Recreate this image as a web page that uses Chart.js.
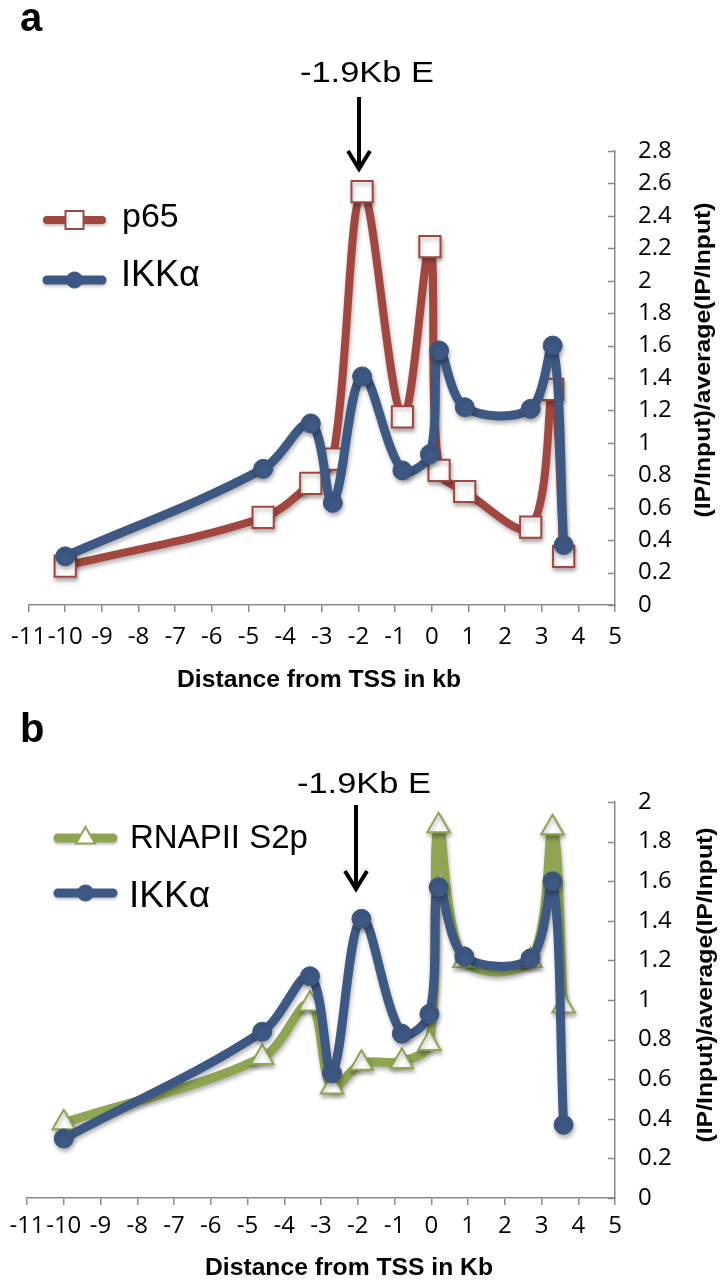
<!DOCTYPE html>
<html>
<head>
<meta charset="utf-8">
<script src="https://cdn.jsdelivr.net/npm/chart.js@4.4.1/dist/chart.umd.min.js"></script>
<style>
	html, body { margin: 0; padding: 0; background: #fff; }
	#wrap { position: relative; width: 726px; height: 1282px; }
	.panel { position: absolute; left: 0; width: 726px; }
	#panelA { top: 0; height: 700px; }
	#panelB { top: 700px; height: 582px; }
</style>
</head>
<body>
<div id="wrap">
	<div class="panel" id="panelA"><canvas id="chartA"></canvas></div>
	<div class="panel" id="panelB"><canvas id="chartB"></canvas></div>
</div>
<script>
// distance from TSS (kb), shared by every series
const distanceKb = [-10, -4.6, -3.3, -2.7, -1.9, -0.8, -0.05, 0.2, 0.9, 2.7, 3.3, 3.6];
const p65Values = [0.24, 0.54, 0.75, 0.9, 2.55, 1.16, 2.21, 0.83, 0.70, 0.48, 1.33, 0.30];
const ikkaValues = [0.30, 0.84, 1.12, 0.63, 1.41, 0.83, 0.93, 1.57, 1.22, 1.21, 1.60, 0.37];
const rnapiiValues = [0.38, 0.71, 0.98, 0.56, 0.68, 0.69, 0.78, 1.88, 1.20, 1.20, 1.87, 0.97];

const xAxisMin = -11;
const xAxisMax = 5;
const yMaxA = 2.8;
const yMaxB = 2;
const yStep = 0.2;

const labelP65 = 'p65';
const labelIkka = 'IKKα';
const labelRnapii = 'RNAPII S2p';
const xTitleA = 'Distance from TSS in kb';
const xTitleB = 'Distance from TSS in Kb';
const yTitle = '(IP/Input)/average(IP/Input)';
const enhancerLabel = '-1.9Kb E';

const RED = '#a2473f';
const BLUE = '#3d5882';
const GREEN = '#8ea552';
const AXIS = '#8a8a8a';
const SANS = '"Liberation Sans", Arial, sans-serif';
const TICK_FONT = '"Open Sans", sans-serif';

const toPoints = (vals) => distanceKb.map((x, i) => ({ x, y: vals[i] }));

const styles = {
	p65: { color: RED, lineWidth: 8, marker: 'rect', size: 15, fill: '#fff', markerBorder: 2 },
	ikka: { color: BLUE, lineWidth: 9, marker: 'circle', size: 9.5, fill: BLUE, markerBorder: 1 },
	rnapii: { color: GREEN, lineWidth: 9, marker: 'triangle', size: 13, fill: '#fff', markerBorder: 2 }
};

function makeDataset(label, vals, st, order) {
	return {
		label,
		data: toPoints(vals),
		borderColor: st.color,
		backgroundColor: st.fill,
		borderWidth: st.lineWidth,
		tension: 0.35,
		pointStyle: st.marker,
		pointRadius: st.size,
		pointBackgroundColor: st.fill,
		pointBorderColor: st.color,
		pointBorderWidth: st.markerBorder,
		order
	};
}

function drawText(ctx, t) {
	ctx.save();
	ctx.font = t.font;
	ctx.fillStyle = t.color || '#000';
	ctx.textBaseline = t.baseline || 'alphabetic';
	ctx.textAlign = t.align || 'left';
	const w = ctx.measureText(t.text).width;
	const sx = t.width ? t.width / w : 1;
	ctx.translate(t.x, t.y);
	if (t.rotate) ctx.rotate(t.rotate);
	ctx.scale(sx, 1);
	ctx.fillText(t.text, 0, 0);
	ctx.restore();
}

function drawMarker(ctx, st, x, y) {
	ctx.save();
	ctx.fillStyle = st.fill;
	ctx.strokeStyle = st.color;
	ctx.lineWidth = st.markerBorder;
	ctx.beginPath();
	const r = st.size;
	if (st.marker === 'circle') {
		ctx.arc(x, y, r, 0, Math.PI * 2);
	} else if (st.marker === 'rect') {
		const h = r * Math.SQRT1_2;
		ctx.rect(x - h, y - h, 2 * h, 2 * h);
	} else {
		ctx.moveTo(x, y - r);
		ctx.lineTo(x + r * Math.sin(Math.PI * 2 / 3), y + r * 0.5);
		ctx.lineTo(x - r * Math.sin(Math.PI * 2 / 3), y + r * 0.5);
		ctx.closePath();
	}
	ctx.fill();
	ctx.stroke();
	ctx.restore();
}

// panel letter, enhancer arrow, legend and axis titles
function decorPlugin(cfg) {
	return {
		id: 'decor',
		afterDraw(chart) {
			const ctx = chart.ctx;
			drawText(ctx, { text: cfg.letter, font: `bold 40px ${SANS}`, x: 20, y: cfg.letterY });

			const a = cfg.arrow;
			drawText(ctx, { text: enhancerLabel, font: `30px ${SANS}`, x: a.textX, y: a.textY, width: a.textW });
			ctx.save();
			ctx.strokeStyle = '#000';
			ctx.lineWidth = 4;
			ctx.lineJoin = 'miter';
			ctx.beginPath();
			ctx.moveTo(a.x, a.top);
			ctx.lineTo(a.x, a.tip - 2);
			ctx.stroke();
			ctx.beginPath();
			ctx.moveTo(a.x - 11, a.tip - 19);
			ctx.lineTo(a.x, a.tip - 1);
			ctx.lineTo(a.x + 11, a.tip - 19);
			ctx.stroke();
			ctx.restore();

			cfg.legend.forEach((e) => {
				ctx.save();
				ctx.shadowColor = 'rgba(0,0,0,0.25)';
				ctx.shadowBlur = 3;
				ctx.shadowOffsetY = 2;
				ctx.strokeStyle = e.st.color;
				ctx.lineWidth = e.st.lineWidth;
				ctx.lineCap = 'round';
				ctx.beginPath();
				ctx.moveTo(e.x1, e.y);
				ctx.lineTo(e.x2, e.y);
				ctx.stroke();
				ctx.restore();
				drawMarker(ctx, Object.assign({}, e.st, { size: e.st.size * 0.85 }), (e.x1 + e.x2) / 2, e.y);
				drawText(ctx, { text: e.text, font: `${e.size}px ${SANS}`, x: e.textX, y: e.base });
			});

			const xt = cfg.xTitle;
			drawText(ctx, { text: xt.text, font: `bold 24px ${SANS}`, x: xt.cx, y: xt.base, align: 'center', width: xt.width });
			const yt = cfg.yTitle;
			drawText(ctx, { text: yTitle, font: `bold 22px ${SANS}`, x: yt.cx, y: yt.cy, align: 'center', baseline: 'middle', rotate: -Math.PI / 2, width: yt.len });

			// Excel-style tick marks pointing into the plot
			const ys = chart.scales.y;
			ctx.save();
			ctx.strokeStyle = AXIS;
			ctx.lineWidth = 1.5;
			ys.ticks.forEach((t) => {
				const py = Math.round(ys.getPixelForValue(t.value)) + 0.5;
				ctx.beginPath();
				ctx.moveTo(ys.left - 7, py);
				ctx.lineTo(ys.left, py);
				ctx.stroke();
			});
			ctx.restore();
		}
	};
}

const shadowPlugin = {
	id: 'shadow',
	beforeDatasetsDraw(chart) {
		const ctx = chart.ctx;
		ctx.save();
		ctx.shadowColor = 'rgba(0,0,0,0.3)';
		ctx.shadowBlur = 4;
		ctx.shadowOffsetX = 1;
		ctx.shadowOffsetY = 3;
	},
	afterDatasetsDraw(chart) {
		chart.ctx.restore();
	}
};

function makeChart(canvas, datasets, yMax, layout, decor) {
	return new Chart(canvas, {
		type: 'line',
		data: { datasets },
		options: {
			responsive: true,
			maintainAspectRatio: false,
			animation: false,
			devicePixelRatio: 1,
			layout: { padding: { left: layout.left, top: layout.top, right: 0, bottom: 0 } },
			plugins: { legend: { display: false }, tooltip: { enabled: false } },
			scales: {
				x: {
					type: 'linear',
					min: xAxisMin,
					max: xAxisMax,
					afterFit: (s) => { s.height = layout.xHeight; },
					ticks: {
						stepSize: 1,
						color: '#000',
						padding: layout.xPad,
						maxRotation: 0,
						autoSkip: false,
						font: { family: TICK_FONT, size: 24 },
						callback: (v) => String(v)
					},
					grid: { drawOnChartArea: false, drawTicks: true, tickLength: 7, color: AXIS, lineWidth: 1.5 },
					border: { display: true, color: AXIS, width: 1.5 }
				},
				y: {
					position: 'right',
					min: 0,
					max: yMax,
					afterFit: (s) => { s.width = 111; },
					ticks: {
						stepSize: yStep,
						color: '#000',
						padding: 23,
						font: { family: TICK_FONT, size: 24 },
						callback: (v) => String(Number(v.toFixed(1)))
					},
					grid: { drawOnChartArea: false, drawTicks: false },
					border: { display: true, color: AXIS, width: 1.5 }
				}
			}
		},
		plugins: [shadowPlugin, decorPlugin(decor)]
	});
}

makeChart(
	document.getElementById('chartA'),
	[makeDataset(labelIkka, ikkaValues, styles.ikka, 0), makeDataset(labelP65, p65Values, styles.p65, 1)],
	yMaxA,
	{ left: 22, top: 151, xHeight: 95, xPad: 11 },
	{
		letter: 'a', letterY: 31,
		arrow: { textX: 300, textY: 82, textW: 134, x: 359, top: 97, tip: 170 },
		legend: [
			{ st: styles.p65, x1: 47, x2: 102, y: 220, textX: 122, base: 227, size: 34, text: labelP65 },
			{ st: styles.ikka, x1: 47, x2: 102, y: 280, textX: 121, base: 286, size: 36, text: labelIkka }
		],
		xTitle: { text: xTitleA, cx: 319, base: 687, width: 284 },
		yTitle: { cx: 704, cy: 360, len: 315 }
	}
);

makeChart(
	document.getElementById('chartB'),
	[makeDataset(labelIkka, ikkaValues, styles.ikka, 0), makeDataset(labelRnapii, rnapiiValues, styles.rnapii, 1)],
	yMaxB,
	{ left: 27, top: 102, xHeight: 84, xPad: 7 },
	{
		letter: 'b', letterY: 42,
		arrow: { textX: 297, textY: 93, textW: 134, x: 356, top: 105, tip: 190 },
		legend: [
			{ st: styles.rnapii, x1: 58, x2: 113, y: 138, textX: 130, base: 148, size: 33, text: labelRnapii },
			{ st: styles.ikka, x1: 58, x2: 113, y: 193, textX: 129, base: 207, size: 37, text: labelIkka }
		],
		xTitle: { text: xTitleB, cx: 349, base: 575, width: 288 },
		yTitle: { cx: 706, cy: 285, len: 315 }
	}
);
</script>
</body>
</html>
